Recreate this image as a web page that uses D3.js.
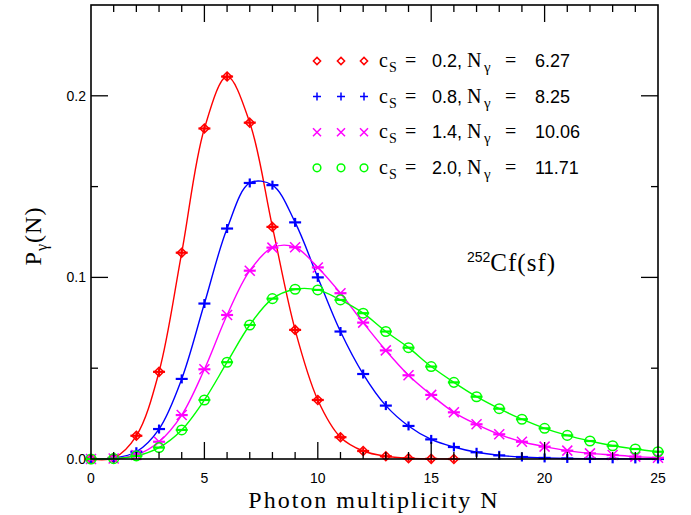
<!DOCTYPE html>
<html>
<head>
<meta charset="utf-8">
<script src="https://cdn.jsdelivr.net/npm/d3@7"></script>
<style>
  html, body { margin: 0; padding: 0; background: #fff; }
  svg { display: block; }
</style>
</head>
<body>
<svg id="chart" width="691" height="515"></svg>
<script>
// ---------------- data ----------------
const multiplicity = d3.range(0, 26);
const xTicks = [0, 5, 10, 15, 20, 25];
const yTicks = [0.0, 0.1, 0.2];
const yTickLabels = ["0.0", "0.1", "0.2"];

const seriesNames = ["0.2", "0.8", "1.4", "2.0"];      // c_S
const seriesMeans = ["6.27", "8.25", "10.06", "11.71"]; // N_gamma
const seriesColors = ["#ff0000", "#0000ff", "#ff00ff", "#00ff00"];
const seriesSymbols = ["diamond", "plus", "cross", "circle"];

const redValues = [0, 0.0006, 0.0128, 0.048, 0.1136, 0.182, 0.2106, 0.1852, 0.1278, 0.0711,
  0.0325, 0.012, 0.0044, 0.0015, 0.0004, 0.0001, 0];
const blueValues = [0, 0.0005, 0.004, 0.0165, 0.0441, 0.0856, 0.1269, 0.152, 0.1508, 0.1303,
  0.1, 0.0702, 0.0468, 0.0294, 0.0182, 0.0108, 0.0066, 0.0037, 0.002, 0.0011,
  0.0006, 0.0003, 0.0002, 0.0001, 0.00005, 0];
const magentaValues = [0, 0.0003, 0.0022, 0.0095, 0.0242, 0.0494, 0.0793, 0.1037, 0.1164, 0.1166,
  0.1055, 0.0913, 0.0751, 0.0598, 0.0461, 0.0353, 0.0257, 0.0191, 0.0136, 0.0095,
  0.0068, 0.0046, 0.0031, 0.0022, 0.0013, 0.0007];
const greenValues = [0, 0.0002, 0.0017, 0.0063, 0.016, 0.0325, 0.0533, 0.0738, 0.0883, 0.0935,
  0.0931, 0.0876, 0.0803, 0.0702, 0.0613, 0.0509, 0.0422, 0.0343, 0.0277, 0.0219,
  0.0169, 0.013, 0.0099, 0.0073, 0.0055, 0.004];

const seriesValues = [redValues, blueValues, magentaValues, greenValues];

// ---------------- layout ----------------
const svg = d3.select("#chart");
const plotL = 91, plotR = 658, plotT = 5, plotB = 459;
const x = d3.scaleLinear().domain([0, 25]).range([plotL, plotR]);
const y = d3.scaleLinear().domain([0, 0.25]).range([plotB, plotT]);

const SANS = "'Liberation Sans', Arial, Helvetica, sans-serif";
const SERIF = "'Liberation Serif', 'Times New Roman', serif";

// ---------------- curves ----------------
const line = d3.line()
  .x(d => x(d[0]))
  .y(d => y(d[1]))
  .curve(d3.curveCatmullRom.alpha(0.5));

seriesValues.forEach((vals, i) => {
  const pts = vals.map((v, k) => [multiplicity[k], v]);
  svg.append("path")
    .attr("d", line(pts))
    .attr("fill", "none")
    .attr("stroke", seriesColors[i])
    .attr("stroke-width", 1.4);
});

// ---------------- markers ----------------
function drawSymbol(g, kind, color, big) {
  const s = big ? 1 : 0.8;
  if (kind === "diamond") {
    g.append("path").attr("d", `M0,${-4.5*s}L${4.5*s},0L0,${4.5*s}L${-4.5*s},0Z`)
      .attr("fill", "none").attr("stroke", color).attr("stroke-width", 1.5);
  } else if (kind === "plus") {
    g.append("path").attr("d", `M${-5*s},0H${5*s}M0,${-5*s}V${5*s}`)
      .attr("stroke", color).attr("stroke-width", big ? 2.2 : 1.5);
  } else if (kind === "cross") {
    g.append("path").attr("d", `M${-5*s},${-5*s}L${5*s},${5*s}M${-5*s},${5*s}L${5*s},${-5*s}`)
      .attr("stroke", color).attr("stroke-width", 1.5);
  } else if (kind === "circle") {
    g.append("circle").attr("r", 4.8*s)
      .attr("fill", "none").attr("stroke", color).attr("stroke-width", 1.5);
  }
}

seriesValues.forEach((vals, i) => {
  vals.forEach((v, k) => {
    const g = svg.append("g")
      .attr("transform", `translate(${x(multiplicity[k])},${y(v)})`);
    g.append("path").attr("d", "M-6,0H6")
      .attr("stroke", seriesColors[i]).attr("stroke-width", 2.2);
    if (seriesSymbols[i] === "diamond") {
      g.append("path").attr("d", "M0,-3.5V3.5")
        .attr("stroke", seriesColors[i]).attr("stroke-width", 2);
    }
    if (seriesSymbols[i] === "plus") {
      g.append("path").attr("d", "M0,-4.5V4.5")
        .attr("stroke", seriesColors[i]).attr("stroke-width", 2.2);
    } else {
      drawSymbol(g, seriesSymbols[i], seriesColors[i], true);
    }
  });
});

// ---------------- frame & ticks ----------------
const axisColor = "#000";
svg.append("rect")
  .attr("x", plotL).attr("y", plotT)
  .attr("width", plotR - plotL).attr("height", plotB - plotT)
  .attr("fill", "none").attr("stroke", axisColor).attr("stroke-width", 1.6);

const majorLen = 17, minorLen = 7;
d3.range(1, 25).forEach(n => {
  const len = (n % 5 === 0) ? majorLen : minorLen;
  svg.append("line").attr("x1", x(n)).attr("x2", x(n))
    .attr("y1", plotB).attr("y2", plotB - len)
    .attr("stroke", axisColor).attr("stroke-width", 1.3);
  svg.append("line").attr("x1", x(n)).attr("x2", x(n))
    .attr("y1", plotT).attr("y2", plotT + len)
    .attr("stroke", axisColor).attr("stroke-width", 1.3);
});
[0.05, 0.1, 0.15, 0.2].forEach((v, i) => {
  const len = (i % 2 === 1) ? majorLen : minorLen;
  svg.append("line").attr("x1", plotL).attr("x2", plotL + len)
    .attr("y1", y(v)).attr("y2", y(v))
    .attr("stroke", axisColor).attr("stroke-width", 1.3);
  svg.append("line").attr("x1", plotR).attr("x2", plotR - len)
    .attr("y1", y(v)).attr("y2", y(v))
    .attr("stroke", axisColor).attr("stroke-width", 1.3);
});

// tick labels
svg.append("g").selectAll("text").data(xTicks).join("text")
  .attr("x", d => x(d)).attr("y", 483)
  .attr("text-anchor", "middle")
  .attr("font-family", SANS).attr("font-size", 14)
  .text(d => d);
svg.append("g").selectAll("text").data(yTicks).join("text")
  .attr("x", 86).attr("y", d => y(d) + 5)
  .attr("text-anchor", "end")
  .attr("font-family", SANS).attr("font-size", 14)
  .text((d, i) => yTickLabels[i]);

// axis titles
svg.append("text")
  .attr("x", 374).attr("y", 508)
  .attr("text-anchor", "middle")
  .attr("font-family", SERIF).attr("font-size", 24)
  .attr("letter-spacing", 2)
  .text("Photon multiplicity N");

const yt = svg.append("text")
  .attr("transform", "translate(41,236) rotate(-90)")
  .attr("text-anchor", "middle")
  .attr("font-family", SERIF).attr("font-size", 24)
  .attr("letter-spacing", 1);
yt.append("tspan").text("P");
yt.append("tspan").attr("font-size", 16).attr("dy", 6).text("γ");
yt.append("tspan").attr("dy", -6).text("(N)");

// ---------------- legend ----------------
const legendTop = 61, legendStep = 35.6;
const legendSymX = [317, 341, 364];
seriesNames.forEach((name, i) => {
  const ly = legendTop + i * legendStep;
  legendSymX.forEach(sx => {
    const g = svg.append("g").attr("transform", `translate(${sx},${ly})`);
    drawSymbol(g, seriesSymbols[i], seriesColors[i], false);
  });
  const t = svg.append("text").attr("y", ly + 6).attr("font-size", 20);
  t.append("tspan").attr("x", 379).attr("font-family", SERIF).text("c");
  t.append("tspan").attr("x", 389).attr("dy", 5).attr("font-size", 14).attr("font-family", SERIF).text("S");
  t.append("tspan").attr("x", 405).attr("dy", -5).attr("font-family", SERIF).text("=");
  t.append("tspan").attr("x", 432).attr("font-family", SANS).attr("font-size", 18).text(name + ",");
  t.append("tspan").attr("x", 467).attr("font-family", SERIF).text("N");
  t.append("tspan").attr("x", 484).attr("dy", 5).attr("font-size", 15).attr("font-family", SERIF).text("γ");
  t.append("tspan").attr("x", 505).attr("dy", -5).attr("font-family", SERIF).text("=");
  t.append("tspan").attr("x", 535).attr("font-family", SANS).attr("font-size", 18).text(seriesMeans[i]);
});

// annotation
const ann = svg.append("text").attr("x", 467).attr("y", 271);
ann.append("tspan").attr("font-family", SANS).attr("font-size", 14).attr("dy", -9).text("252");
ann.append("tspan").attr("font-family", SERIF).attr("font-size", 25).attr("dy", 9)
  .attr("letter-spacing", 1).text("Cf(sf)");
</script>
</body>
</html>
